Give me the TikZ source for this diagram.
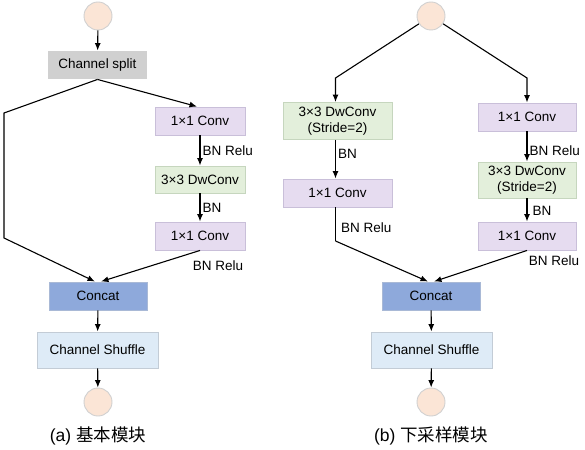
\documentclass[tikz,border=0pt]{standalone}
\usepackage{fontspec}
\setmainfont{Liberation Sans}
\newfontfamily\cjk{Noto Sans CJK SC}
\usetikzlibrary{arrows.meta}
\definecolor{peach}{HTML}{FBE5D6}
\definecolor{splitgray}{HTML}{D0D0D0}
\definecolor{convfill}{HTML}{E6DCF0}
\definecolor{convline}{HTML}{C9BFD9}
\definecolor{dwfill}{HTML}{E3EFDB}
\definecolor{dwline}{HTML}{C6D6BE}
\definecolor{catfill}{HTML}{8EA9DB}
\definecolor{catline}{HTML}{A9B9D6}
\definecolor{shuffill}{HTML}{DEEBF7}
\definecolor{shufline}{HTML}{C3CCD6}

\begin{document}
\begin{tikzpicture}[x=1pt,y=-1pt,font=\fontsize{13.5}{15.5}\selectfont,
  blk/.style={minimum height=28pt, inner sep=1pt, line width=0.9pt, align=center},
  splitbox/.style={blk, fill=splitgray, minimum width=99pt},
  convbox/.style={blk, fill=convfill, draw=convline},
  dwbox/.style={blk, fill=dwfill, draw=dwline},
  catbox/.style={blk, fill=catfill, draw=catline, minimum width=98pt},
  shufbox/.style={blk, fill=shuffill, draw=shufline, minimum width=121pt, minimum height=36pt},
  io/.style={circle, fill=peach, draw=splitgray, line width=0.9pt, minimum size=28pt, inner sep=0pt},
  arr/.style={-{Latex[length=7.5pt,width=6pt]}, line width=1.1pt},
  wire/.style={line width=1.1pt},
  lab/.style={inner sep=2pt}]

\useasboundingbox (0,0) rectangle (585,449);

% (a) basic unit
\node[io] (in1) at (98,16) {};
\node[splitbox] (split) at (97.5,65) {Channel split};
\node[convbox, minimum width=90pt] (conv1) at (200,121) {1×1 Conv};
\node[dwbox, minimum width=90pt, minimum height=27pt] (dw1) at (200,179.5) {3×3 DwConv};
\node[convbox, minimum width=90pt] (conv2) at (200,236) {1×1 Conv};
\node[catbox] (cat1) at (98,296) {Concat};
\node[shufbox] (shuf1) at (97.5,350) {Channel Shuffle};
\node[io] (out1) at (98,402) {};
\coordinate (a1) at (4,113);
\coordinate (a2) at (4,238);

\draw[arr] (in1) -- (split);
\draw[arr] (split.south) -- ([xshift=-3pt]conv1.north);
\draw[arr] (conv1) -- node[right,lab] {BN Relu} (dw1);
\draw[arr] (dw1) -- node[right,lab] {BN} (conv2);
\draw[arr] (split.south) -- (a1) -- (a2) -- ([xshift=-3pt]cat1.north);
\draw[arr] (conv2.south) -- ([xshift=3pt]cat1.north);
\node[lab] (r1) at (218,266) {BN Relu};
\draw[arr] (cat1) -- (shuf1);
\draw[arr] (shuf1) -- (out1);
\node[font=\fontsize{17.5}{19}\selectfont] (capa) at (98,436) {(a) {\cjk 基本模块}};

% (b) down-sampling unit
\node[io] (in2) at (431,16) {};
\coordinate (b1) at (335.5,78);
\coordinate (b2) at (527,78);
\node[dwbox, minimum width=109pt, minimum height=37pt] (dw2) at (337.5,121) {3×3 DwConv\\(Stride=2)};
\node[convbox, minimum width=109pt] (conv3) at (337.5,193) {1×1 Conv};
\node[convbox, minimum width=98pt] (conv4) at (527,117) {1×1 Conv};
\node[dwbox, minimum width=98pt, minimum height=36pt] (dw3) at (527,180) {3×3 DwConv\\(Stride=2)};
\node[convbox, minimum width=98pt] (conv5) at (527,236) {1×1 Conv};
\node[catbox] (cat2) at (431,296) {Concat};
\node[shufbox] (shuf2) at (431.5,350) {Channel Shuffle};
\node[io] (out2) at (431,402) {};
\coordinate (b3) at (335.5,241);

\draw[arr] (in2) -- (b1) -- (b1 |- dw2.north);
\draw[arr] (in2) -- (b2) -- (conv4.north);
\draw[arr] (b1 |- dw2.south) -- node[right,lab,pos=0.35] {BN} (b1 |- conv3.north);
\draw[wire] (b1 |- conv3.south) -- (b3);
\draw[arr] (b3) -- ([xshift=-3pt]cat2.north);
\node[lab, anchor=west] (r2) at (339,228) {BN Relu};
\draw[arr] (conv4) -- node[right,lab,pos=0.65] {BN Relu} (dw3);
\draw[arr] (dw3) -- node[right,lab,pos=0.55,xshift=3pt] {BN} (conv5);
\draw[arr] (conv5.south) -- ([xshift=3pt]cat2.north);
\node[lab] (r3) at (554,261) {BN Relu};
\draw[arr] (cat2) -- (shuf2);
\draw[arr] (shuf2) -- (out2);
\node[font=\fontsize{17.5}{19}\selectfont] (capb) at (431,436) {(b) {\cjk 下采样模块}};

\end{tikzpicture}
\end{document}
